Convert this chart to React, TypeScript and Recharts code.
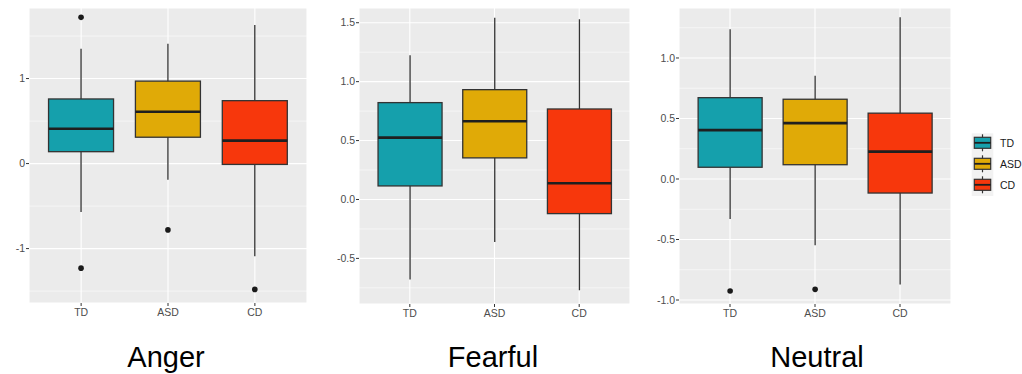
import { ComposedChart, Bar, XAxis, YAxis, CartesianGrid } from "recharts";

const groups = ["TD", "ASD", "CD"];
const groupColors = ["#15a0ac", "#e0aa07", "#f7370c"];

// Anger
const angerLow = [-0.57, -0.19, -1.09];
const angerQ1 = [0.14, 0.31, -0.01];
const angerMedian = [0.41, 0.61, 0.27];
const angerQ3 = [0.76, 0.97, 0.74];
const angerHigh = [1.35, 1.41, 1.63];
const angerOutliers = [[1.72, -1.23], [-0.78], [-1.48]];
const angerTicks = [-1, 0, 1];
const angerMinor = [-1.5, -0.5, 0.5, 1.5];

// Fearful
const fearLow = [-0.68, -0.36, -0.77];
const fearQ1 = [0.115, 0.353, -0.12];
const fearMedian = [0.525, 0.664, 0.138];
const fearQ3 = [0.822, 0.932, 0.768];
const fearHigh = [1.223, 1.542, 1.529];
const fearOutliers: number[][] = [[], [], []];
const fearTicks = [-0.5, 0, 0.5, 1, 1.5];
const fearMinor = [-0.75, -0.25, 0.25, 0.75, 1.25];

// Neutral
const neutralLow = [-0.33, -0.547, -0.872];
const neutralQ1 = [0.097, 0.118, -0.116];
const neutralMedian = [0.404, 0.462, 0.226];
const neutralQ3 = [0.672, 0.659, 0.544];
const neutralHigh = [1.237, 0.854, 1.336];
const neutralOutliers = [[-0.926], [-0.912], []];
const neutralTicks = [-1, -0.5, 0, 0.5, 1];
const neutralMinor = [-0.75, -0.25, 0.25, 0.75, 1.25];

function buildRows(low: number[], q1: number[], med: number[], q3: number[], high: number[], out: number[][]) {
  return groups.map((g, i) => ({
    group: g,
    low: low[i],
    q1: q1[i],
    median: med[i],
    q3: q3[i],
    high: high[i],
    outliers: out[i],
    color: groupColors[i],
  }));
}

const panels = [
  {
    title: "Anger",
    rows: buildRows(angerLow, angerQ1, angerMedian, angerQ3, angerHigh, angerOutliers),
    domain: [-1.64, 1.83],
    ticks: angerTicks,
    minor: angerMinor,
    fmt: (v: number) => String(v),
    left: 0, width: 320, yWidth: 29, mRight: 13, mBottom: 7, center: 166,
  },
  {
    title: "Fearful",
    rows: buildRows(fearLow, fearQ1, fearMedian, fearQ3, fearHigh, fearOutliers),
    domain: [-0.887, 1.625],
    ticks: fearTicks,
    minor: fearMinor,
    fmt: (v: number) => v.toFixed(1),
    left: 320, width: 320, yWidth: 39, mRight: 10, mBottom: 6, center: 493,
  },
  {
    title: "Neutral",
    rows: buildRows(neutralLow, neutralQ1, neutralMedian, neutralQ3, neutralHigh, neutralOutliers),
    domain: [-1.033, 1.413],
    ticks: neutralTicks,
    minor: neutralMinor,
    fmt: (v: number) => v.toFixed(1),
    left: 640, width: 320, yWidth: 39, mRight: 9, mBottom: 6, center: 817,
  },
];

// box drawn inside the whisker range bar; inner stats placed along the bar's own pixel span
function BoxShape(props: any) {
  const { x, y, width, height, payload } = props;
  if (payload == null || width == null) return null;
  const top = Math.min(y, y + height);
  const bottom = Math.max(y, y + height);
  const { low, q1, median, q3, high, outliers, color } = payload;
  const toPx = (v: number) => top + ((high - v) / (high - low)) * (bottom - top);
  const cx = x + width / 2;
  return (
    <g>
      <line x1={cx} x2={cx} y1={toPx(high)} y2={toPx(low)} stroke="#333" strokeWidth={1.3} />
      <rect x={x} y={toPx(q3)} width={width} height={toPx(q1) - toPx(q3)} fill={color} stroke="#333" strokeWidth={1.3} />
      <line x1={x} x2={x + width} y1={toPx(median)} y2={toPx(median)} stroke="#1f1f1f" strokeWidth={2.6} />
      {outliers.map((o: number, i: number) => (
        <circle key={i} cx={cx} cy={toPx(o)} r={2.8} fill="#1a1a1a" />
      ))}
    </g>
  );
}

function minorLines(p: (typeof panels)[number]) {
  return (args: any) => {
    const s = args?.yAxis?.scale;
    if (typeof s === "function") return p.minor.map((m) => s(m));
    if (s && typeof s.map === "function") return p.minor.map((m) => s.map(m));
    const off = args?.offset;
    if (!off) return [];
    const [lo, hi] = p.domain;
    return p.minor.map((m) => off.top + ((hi - m) / (hi - lo)) * off.height);
  };
}

function Panel({ p }: { p: (typeof panels)[number] }) {
  const plotW = p.width - p.yWidth - p.mRight;
  const pad = plotW / 32;
  return (
    <div style={{ position: "absolute", left: p.left, top: 0 }}>
      <ComposedChart
        width={p.width}
        height={330}
        data={p.rows}
        margin={{ top: 8, right: p.mRight, bottom: p.mBottom, left: 0 }}
        barCategoryGap="12.5%"
      >
        <CartesianGrid fill="#ebebeb" stroke="#ffffff" strokeWidth={1.1} />
        <CartesianGrid
          vertical={false}
          stroke="#ffffff"
          strokeWidth={0.55}
          horizontalCoordinatesGenerator={minorLines(p)}
        />
        <XAxis
          dataKey="group"
          padding={{ left: pad, right: pad }}
          axisLine={false}
          tickLine={{ stroke: "#333", strokeWidth: 1 }}
          tickSize={3}
          tickMargin={3}
          height={20}
          interval={0}
          tick={{ fill: "#4d4d4d", fontSize: 10.5 }}
        />
        <YAxis
          type="number"
          domain={p.domain}
          ticks={p.ticks}
          allowDataOverflow
          width={p.yWidth}
          tickFormatter={p.fmt}
          axisLine={false}
          tickLine={{ stroke: "#333", strokeWidth: 1 }}
          tickSize={3}
          tickMargin={1}
          interval={0}
          tick={{ fill: "#4d4d4d", fontSize: 10.5 }}
        />
        <Bar dataKey={(d: any) => [d.low, d.high]} shape={BoxShape} isAnimationActive={false} />
      </ComposedChart>
    </div>
  );
}

function Legend() {
  const tops = [137.3, 158.3, 179.3];
  return (
    <svg style={{ position: "absolute", left: 0, top: 0 }} width={1022} height={374}>
      <rect x={971.7} y={133.3} width={21.6} height={62.7} fill="#f2f2f2" />
      {groups.map((g, i) => (
        <g key={g}>
          <line x1={982.5} x2={982.5} y1={tops[i] - 3} y2={tops[i] + 14} stroke="#333" strokeWidth={1.2} />
          <rect x={974.3} y={tops[i]} width={16.4} height={11} fill={groupColors[i]} stroke="#333" strokeWidth={1.2} />
          <line x1={974.3} x2={990.7} y1={tops[i] + 5.5} y2={tops[i] + 5.5} stroke="#1f1f1f" strokeWidth={1.8} />
          <text x={1000} y={tops[i] + 5.5} dy="0.355em" fontSize={10.5} fill="#1a1a1a">
            {g}
          </text>
        </g>
      ))}
    </svg>
  );
}

export default function App() {
  return (
    <div
      style={{
        position: "relative",
        width: 1022,
        height: 374,
        background: "#fff",
        fontFamily: "'Liberation Sans', Arial, sans-serif",
        overflow: "hidden",
      }}
    >
      <style>{"body{margin:0}"}</style>
      {panels.map((p) => (
        <Panel key={p.title} p={p} />
      ))}
      <Legend />
      {panels.map((p) => (
        <div
          key={p.title + "-t"}
          style={{
            position: "absolute",
            left: p.center - 100,
            width: 200,
            top: 341,
            textAlign: "center",
            fontSize: 29,
            lineHeight: "32px",
            color: "#000",
          }}
        >
          {p.title}
        </div>
      ))}
    </div>
  );
}
